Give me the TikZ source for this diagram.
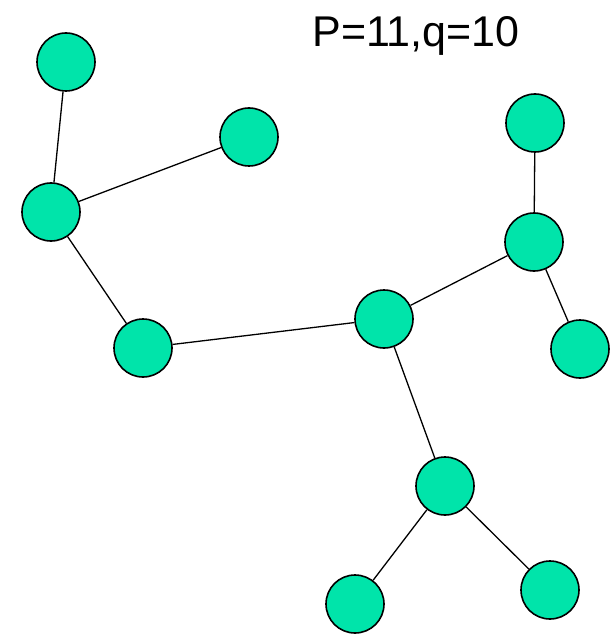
\documentclass[tikz,border=0pt]{standalone}
\usepackage{fontspec}
\setmainfont{Liberation Sans}
\definecolor{nodegreen}{RGB}{0,228,170}
\begin{document}
\begin{tikzpicture}[x=1pt,y=-1pt,
  vtx/.style={circle,draw=black,line width=1.6pt,fill=nodegreen,minimum size=58pt,inner sep=0pt},
  edge/.style={line width=1.3pt}]
\useasboundingbox (0,0) rectangle (612,636);
\node[vtx] (n1) at (66,62) {};
\node[vtx] (n2) at (249,137) {};
\node[vtx] (n3) at (51,212) {};
\node[vtx] (n4) at (143,348) {};
\node[vtx] (n5) at (384,319) {};
\node[vtx] (n6) at (535,123) {};
\node[vtx] (n7) at (534,242) {};
\node[vtx] (n8) at (580,349) {};
\node[vtx] (n9) at (445,486) {};
\node[vtx] (n10) at (355,604) {};
\node[vtx] (n11) at (550,590) {};
\draw[edge] (n1) -- (n3);
\draw[edge] (n2) -- (n3);
\draw[edge] (n3) -- (n4);
\draw[edge] (n4) -- (n5);
\draw[edge] (n5) -- (n7);
\draw[edge] (n6) -- (n7);
\draw[edge] (n7) -- (n8);
\draw[edge] (n5) -- (n9);
\draw[edge] (n9) -- (n10);
\draw[edge] (n9) -- (n11);
\node[anchor=base,inner sep=0pt,font=\fontsize{43}{50}\selectfont] (lbl) at (416,47) {P=11,q=10};
\end{tikzpicture}
\end{document}
